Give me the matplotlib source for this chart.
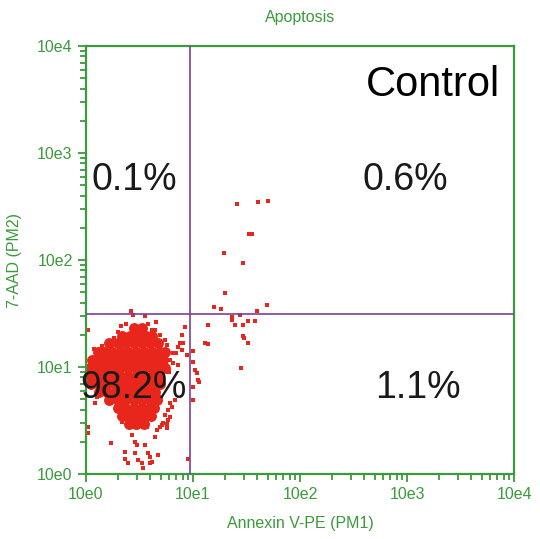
import numpy as np
import matplotlib.pyplot as plt
from matplotlib.ticker import FixedLocator, FuncFormatter, LogLocator

plt.rcParams['font.family'] = ['Liberation Sans', 'DejaVu Sans']

# Event positions in decades (log10 of channel value)
# dense core of the live population
core_x = [0.45, 0.52,
          0.34, 0.41, 0.49, 0.56, 0.62,
          0.22, 0.30, 0.37, 0.45, 0.52, 0.60, 0.67,
          0.11, 0.17, 0.24, 0.32, 0.39, 0.47, 0.54, 0.62, 0.69, 0.74,
          0.06, 0.13, 0.21, 0.28, 0.36, 0.43, 0.50, 0.58, 0.65, 0.72,
          0.04, 0.09, 0.17, 0.24, 0.32, 0.39, 0.47, 0.54, 0.62, 0.69, 0.74,
          0.04, 0.10, 0.17, 0.24, 0.32, 0.39, 0.47, 0.54, 0.62, 0.68,
          0.05, 0.12, 0.20, 0.27, 0.34, 0.41, 0.49, 0.56, 0.63, 0.69,
          0.12, 0.20, 0.28, 0.36, 0.43, 0.50, 0.58, 0.65,
          0.22, 0.30, 0.37, 0.45, 0.52, 0.60, 0.66,
          0.30, 0.37, 0.45, 0.52, 0.60, 0.64,
          0.34, 0.41, 0.48, 0.55, 0.61,
          0.40, 0.47, 0.54]
core_y = [1.36] * 2 + [1.29] * 5 + [1.22] * 7 + [1.14] * 10 + [1.07] * 10 \
    + [0.99] * 11 + [0.92] * 10 + [0.84] * 10 + [0.77] * 8 + [0.69] * 7 \
    + [0.62] * 6 + [0.54] * 5 + [0.47] * 3

# scattered single events
scat_x = [1.414, 1.610, 1.698, 1.523, 1.551, 1.290, 1.470, 1.299, 1.196, 1.259,
          1.689, 1.601, 1.362, 1.362, 1.439, 1.393, 1.470, 1.517, 1.579, 1.143,
          0.925, 1.470, 1.477, 1.511, 1.112, 1.143, 1.449, 0.907, 0.941,
          0.894, 0.863, 0.841, 0.816, 0.997, 0.997, 1.019, 1.035, 1.059, 0.997,
          0.832, 0.801, 0.997, 0.879, 0.894, 0.863, 0.785, 0.816, 0.769, 0.754,
          0.738, 0.692, 0.645,
          0.418, 0.442, 0.551, 0.651, 0.371, 0.019, 0.021,
          0.234, 0.427, 0.458, 0.474, 0.551, 0.645, 0.364, 0.458, 0.582, 0.598,
          0.676, 0.364, 0.395, 0.489, 0.521, 0.598, 0.614, 0.536, 0.956, 0.754,
          0.707, 0.567, 0.334, 0.785, 0.769, 0.738, 0.769, 0.722, 1.050, 0.801,
          0.785, 0.754, 0.661, 0.692, 0.090, 0.019,
          0.30, 0.33, 0.26, 0.58, 0.62, 0.78, 0.70, 0.15, 0.08, 0.10]
scat_y = [2.521, 2.539, 2.551, 2.243, 2.243, 2.065, 1.969, 1.689, 1.558, 1.542,
          1.579, 1.523, 1.470, 1.439, 1.486, 1.393, 1.393, 1.430, 1.430, 1.393,
          1.377, 1.293, 1.274, 1.227, 1.227, 1.215, 0.988, 1.224, 1.112,
          1.299, 1.190, 1.128, 1.035, 1.150, 1.050, 0.972, 0.941, 0.863, 0.692,
          0.692, 0.623, 0.816, 1.221, 1.159, 1.019, 1.065, 1.128, 1.143, 1.206,
          1.252, 1.299, 1.346,
          1.523, 1.486, 1.477, 1.423, 1.402, 1.346, 0.383,
          0.287, 0.364, 0.302, 0.271, 0.271, 0.349, 0.208, 0.193, 0.193, 0.162,
          0.178, 0.137, 0.100, 0.131, 0.100, 0.100, 0.115, 0.053, 0.137, 0.427,
          0.458, 0.442, 0.489, 0.661, 0.598, 0.551, 0.505, 0.477, 0.879, 0.629,
          0.536, 0.471, 0.411, 0.442, 0.661, 0.442,
          1.33, 1.38, 1.27, 1.40, 1.35, 0.95, 0.72, 1.20, 1.17, 0.72]

gate_x = 9.4
gate_y = 31.3

quadrant_labels = ['0.1%', '0.6%', '98.2%', '1.1%']
quadrant_pos = [(0.114, 0.686), (0.745, 0.686), (0.112, 0.201), (0.776, 0.201)]

green = '#3b9a3b'
red = '#e8261c'
purple = '#7b3f98'

fig = plt.figure(figsize=(5.4, 5.39), dpi=100)
ax = fig.add_axes([0.159, 0.1206, 0.793, 0.794])

ax.scatter(np.power(10, core_x), np.power(10, core_y), s=62, marker='o',
           color=red, linewidths=0, zorder=2)
ax.scatter(np.power(10, scat_x), np.power(10, scat_y), s=8, marker='s',
           color=red, linewidths=0, zorder=2)

ax.axvline(gate_x, color=purple, lw=1.2, zorder=3)
ax.axhline(gate_y, color=purple, lw=1.2, zorder=3)

ax.set_xscale('log')
ax.set_yscale('log')
ax.set_xlim(1, 1e4)
ax.set_ylim(1, 1e4)

decades = [1, 10, 100, 1000, 10000]
fmt = FuncFormatter(lambda v, p: '10e%d' % round(np.log10(v)))
for axis in (ax.xaxis, ax.yaxis):
    axis.set_major_locator(FixedLocator(decades))
    axis.set_major_formatter(fmt)
    axis.set_minor_locator(LogLocator(base=10, subs=np.arange(2, 10)))
    axis.set_minor_formatter(FuncFormatter(lambda v, p: ''))

ax.tick_params(which='both', direction='out', color=green, width=1.3,
               labelcolor=green, labelsize=11.5)
ax.tick_params(which='major', length=6)
ax.tick_params(which='minor', length=4)
for sp in ax.spines.values():
    sp.set_color(green)
    sp.set_linewidth(1.6)

ax.set_xlabel('Annexin V-PE (PM1)', color=green, fontsize=11.5, labelpad=10)
ax.set_ylabel('7-AAD (PM2)', color=green, fontsize=11.5, labelpad=11)
ax.set_title('Apoptosis', color=green, fontsize=11.5, pad=17)

for lab, (tx, ty) in zip(quadrant_labels, quadrant_pos):
    ax.text(tx, ty, lab, transform=ax.transAxes, fontsize=27, color='#1a1a1a',
            ha='center', va='center', zorder=5)
ax.text(0.811, 0.908, 'Control', transform=ax.transAxes, fontsize=30,
        color='black', ha='center', va='center', zorder=5)

fig.savefig('out.png', dpi=100)
